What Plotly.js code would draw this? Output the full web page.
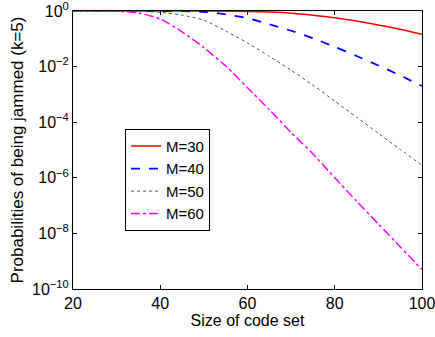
<!DOCTYPE html>
<html>
<head>
<meta charset="utf-8">
<script src="https://cdn.plot.ly/plotly-3.0.1.min.js"></script>
<style>
  html, body { margin: 0; padding: 0; background: #fff; }
  #chart { width: 435px; height: 337px; }
</style>
</head>
<body>
<div id="chart"></div>
<script>
// Size of code set
var codeSetSize = [20, 25, 30, 35, 40, 45, 50, 55, 60, 65, 70, 75, 80, 85, 90, 95, 100];

// Probabilities of being jammed (k=5)
var probM30 = [1.0, 1.0, 1.0, 1.0, 1.0, 0.9995, 0.998, 0.989, 0.966, 0.912, 0.832, 0.708, 0.575, 0.436, 0.316, 0.219, 0.145];
var probM40 = [1.0, 1.0, 1.0, 1.0, 0.998, 0.989, 0.933, 0.759, 0.550, 0.331, 0.195, 0.105, 0.0513, 0.0240, 0.0110, 0.00479, 0.00200];
var probM50 = [1.0, 1.0, 1.0, 0.977, 0.891, 0.708, 0.468, 0.191, 0.0708, 0.0234, 0.00741, 0.00214, 5.75e-4, 1.51e-4, 3.98e-5, 1.05e-5, 2.82e-6];
var probM60 = [1.0, 1.0, 0.977, 0.851, 0.513, 0.178, 0.0479, 0.0105, 1.74e-3, 2.82e-4, 4.27e-5, 7.24e-6, 1.0e-6, 1.45e-7, 2.19e-8, 3.31e-9, 5.01e-10];

var seriesNames = ['M=30', 'M=40', 'M=50', 'M=60'];

// Axis ticks
var xTickVals = [20, 40, 60, 80, 100];
var yTickVals = [1e-10, 1e-8, 1e-6, 1e-4, 1e-2, 1];
var yTickText = ['10<sup>\u221210</sup>', '10<sup>\u22128</sup>', '10<sup>\u22126</sup>', '10<sup>\u22124</sup>', '10<sup>\u22122</sup>', '10<sup>0</sup>'];

var FONT = 'Liberation Sans, Arial, Helvetica, sans-serif';

var styles = [
  {color: '#ff0000', dash: 'solid', width: 1.5},
  {color: '#0000ff', dash: 'dash', width: 1.8},
  {color: '#555555', dash: 'dot', width: 1},
  {color: '#ff00ff', dash: 'dashdot', width: 1.5}
];
var seriesData = [probM30, probM40, probM50, probM60];

var traces = seriesData.map(function (ys, i) {
  return {
    x: codeSetSize,
    y: ys,
    name: seriesNames[i],
    type: 'scatter',
    mode: 'lines',
    line: {color: styles[i].color, dash: styles[i].dash, width: styles[i].width, shape: 'spline', smoothing: 0.6}
  };
});

var layout = {
  width: 435,
  height: 337,
  margin: {l: 73, r: 13, t: 11, b: 48},
  paper_bgcolor: '#ffffff',
  plot_bgcolor: '#ffffff',
  font: {family: FONT, size: 16, color: '#000000'},
  showlegend: true,
  legend: {
    x: 0.149, y: 0.576, xanchor: 'left', yanchor: 'top',
    bgcolor: '#ffffff', bordercolor: '#000000', borderwidth: 1,
    font: {family: FONT, size: 15, color: '#000000'},
    tracegroupgap: 0
  },
  xaxis: {
    range: [20, 100],
    tickvals: xTickVals,
    ticks: 'inside', ticklen: 4, tickcolor: '#000000',
    showline: true, linecolor: '#000000', linewidth: 1, mirror: 'ticks',
    showgrid: false, zeroline: false,
    ticklabeloverflow: 'allow',
    tickfont: {family: FONT, size: 16, color: '#000000'},
    title: {text: 'Size of code set', font: {family: FONT, size: 16, color: '#000000'}, standoff: 2}
  },
  yaxis: {
    type: 'log',
    range: [-10, 0],
    tickvals: yTickVals,
    ticktext: yTickText,
    ticks: 'inside', ticklen: 4, tickcolor: '#000000',
    showline: true, linecolor: '#000000', linewidth: 1, mirror: 'ticks',
    showgrid: false, zeroline: false,
    ticklabeloverflow: 'allow',
    tickfont: {family: FONT, size: 16, color: '#000000'},
    title: {text: 'Probabilities of being jammed (k=5)', font: {family: FONT, size: 17, color: '#000000'}, standoff: 4}
  }
};

Plotly.newPlot('chart', traces, layout, {staticPlot: true, displayModeBar: false});
</script>
</body>
</html>
